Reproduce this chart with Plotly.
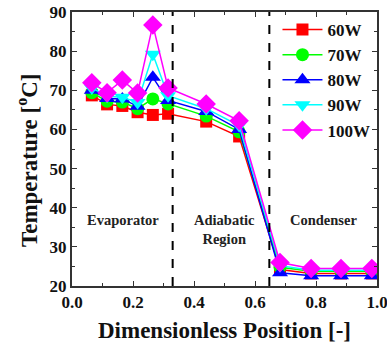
import plotly.graph_objects as go

x_pos = [0.065, 0.115, 0.165, 0.215, 0.265, 0.315, 0.44, 0.548, 0.682, 0.784, 0.882, 0.983]
t_60 = [68.7, 66.4, 66.0, 64.4, 63.7, 64.0, 62.0, 58.2, 24.2, 23.2, 23.2, 23.2]
t_70 = [69.4, 67.2, 67.0, 65.3, 67.8, 66.5, 63.4, 59.4, 24.8, 23.8, 23.8, 23.8]
t_80 = [70.0, 67.9, 67.8, 65.9, 73.3, 67.4, 64.6, 60.0, 23.4, 22.6, 22.6, 22.6]
t_90 = [70.6, 68.5, 68.2, 66.9, 79.2, 68.6, 65.3, 61.0, 25.2, 24.0, 24.0, 24.0]
t_100 = [71.9, 69.4, 72.6, 69.3, 86.7, 70.6, 66.5, 62.2, 26.0, 24.5, 24.5, 24.5]

series = [
    ("60W", t_60, "#FF0000", "square", 12),
    ("70W", t_70, "#00FF00", "circle", 13),
    ("80W", t_80, "#0000FF", "triangle-up", 14),
    ("90W", t_90, "#00FFFF", "triangle-down", 14),
    ("100W", t_100, "#FF00FF", "diamond", 15),
]

region_labels = ["Evaporator", "Adiabatic<br>Region", "Condenser"]
region_x = [0.167, 0.50, 0.823]
boundaries = [0.33, 0.647]

font = "Liberation Serif, Times New Roman, serif"

fig = go.Figure()
for name, ys, col, sym, sz in series:
    fig.add_trace(go.Scatter(
        x=x_pos, y=ys, name=name, mode="lines+markers",
        line=dict(color=col, width=1.5),
        marker=dict(symbol=sym, size=sz, color=col),
    ))

for b in boundaries:
    fig.add_shape(type="line", xref="x", yref="paper", x0=b, x1=b, y0=0, y1=1,
                  line=dict(color="black", width=2, dash="dash"))

for lab, xx in zip(region_labels, region_x):
    fig.add_annotation(x=xx, y=39.3, xref="x", yref="y", text=lab,
                       showarrow=False, yanchor="top",
                       font=dict(family=font, size=14.5, color="#222", weight="bold"))

# y axis title placed as rotated annotation
fig.add_annotation(x=-0.144, y=0.46, xref="paper", yref="paper",
                   text="Temperature [<sup>o</sup>C]", textangle=-90, showarrow=False,
                   xanchor="center", yanchor="middle",
                   font=dict(family=font, size=23, color="#111", weight="bold"))

axis_common = dict(
    showline=True, linecolor="#333", linewidth=2, mirror="ticks",
    ticks="inside", ticklen=5, tickwidth=1, tickcolor="#333",
    showgrid=False, zeroline=False, automargin=False,
    ticklabeloverflow="allow",
    tickfont=dict(family=font, size=17, color="#111", weight="bold"),
)

fig.update_xaxes(range=[0, 1.0], dtick=0.2, tickformat=".1f",
                 minor=dict(dtick=0.1, ticks="inside", ticklen=3, tickcolor="#333"),
                 title=dict(text="Dimensionless Position [-]",
                            font=dict(family=font, size=23, color="#111", weight="bold"), standoff=10),
                 **axis_common)
fig.update_yaxes(range=[20, 90], dtick=10,
                 minor=dict(dtick=5, ticks="inside", ticklen=3, tickcolor="#333"),
                 **axis_common)

fig.update_layout(
    width=387, height=346,
    margin=dict(l=72, r=10, t=12, b=60),
    plot_bgcolor="white", paper_bgcolor="white",
    legend=dict(x=0.995, y=1.0, xanchor="right", yanchor="top",
                bgcolor="rgba(0,0,0,0)", borderwidth=0,
                font=dict(family=font, size=17, color="#111", weight="bold"),
                itemwidth=40, tracegroupgap=0),
)

fig.write_html("out.html", config={"displayModeBar": False},
               post_script="document.body.style.margin='0';")
